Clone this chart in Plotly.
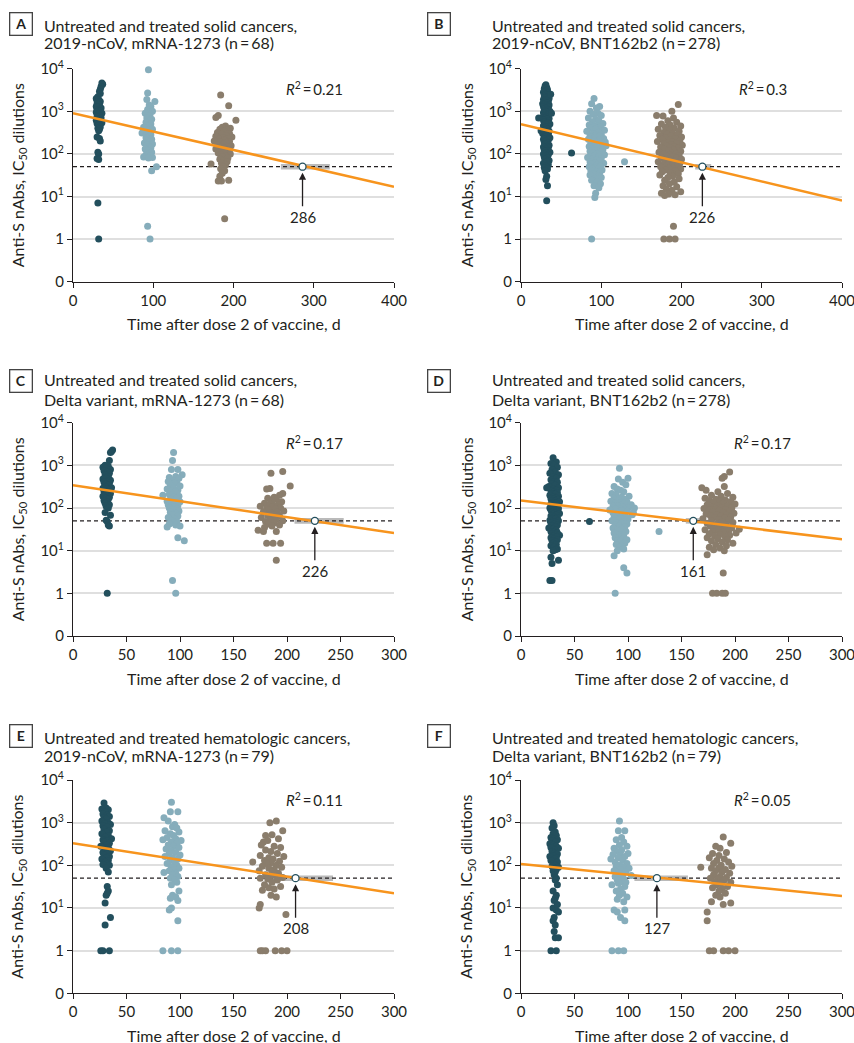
import numpy as np
import plotly.graph_objects as go

# ---------------- data ----------------
panel_letters = ["A", "B", "C", "D", "E", "F"]
title_line1 = ["Untreated and treated solid cancers,"] * 4 + ["Untreated and treated hematologic cancers,"] * 2
title_line2 = [
    "2019-nCoV, mRNA-1273 (n\u2009=\u200968)",
    "2019-nCoV, BNT162b2 (n\u2009=\u2009278)",
    "Delta variant, mRNA-1273 (n\u2009=\u200968)",
    "Delta variant, BNT162b2 (n\u2009=\u2009278)",
    "2019-nCoV, mRNA-1273 (n\u2009=\u200979)",
    "Delta variant, BNT162b2 (n\u2009=\u200979)",
]
x_max = [400, 400, 300, 300, 300, 300]
x_step = [100, 100, 50, 50, 50, 50]
fit_start = [900, 500, 340, 150, 330, 107]
fit_end = [17, 8, 26, 18.5, 22, 19]
cross_day = [286, 226, 226, 161, 208, 127]
ci_low = [259, 217, 207, 154, 186, 106]
ci_high = [320, 237, 253, 170, 243, 156]
r2_text = ["0.21", "0.3", "0.17", "0.17", "0.11", "0.05"]
threshold = 50
y_tick_vals = [0, 1, 10, 100, 1000, 10000]
y_tick_text = ["0", "1", "10<sup>1</sup>", "10<sup>2</sup>", "10<sup>3</sup>", "10<sup>4</sup>"]

# (day, titer) pairs per panel and visit
A1 = [(36,4600),(37,4300),(35,3800),(34,3300),(33,2900),(34,2600),(31,2200),(29,2000),(30,1800),(32,1900),
      (34,1700),(30,1500),(33,1400),(29,1300),(31,1250),(35,1200),(30,1100),(32,1050),(34,1000),(29,950),
      (36,900),(31,850),(33,800),(30,750),(35,700),(32,650),(29,620),(34,600),(31,560),(36,540),
      (30,520),(33,500),(32,470),(34,430),(31,400),(33,380),(32,350),(30,250),(33,230),(34,200),
      (31,110),(32,100),(30,78),(32,74),(31,7),(32,1)]
A2 = [(94,9500),(93,2700),(92,1900),(102,1700),(95,1400),(97,1300),(93,1100),(99,1000),(90,900),(96,850),
      (94,800),(92,700),(98,650),(95,600),(91,550),(97,500),(93,450),(88,420),(96,400),(99,380),
      (90,350),(94,330),(86,310),(92,300),(97,280),(95,260),(91,240),(98,220),(93,200),(96,190),
      (89,180),(99,170),(92,160),(95,150),(97,140),(90,130),(94,120),(98,110),(93,100),(91,95),
      (96,90),(88,85),(99,82),(94,80),(104,50),(98,40),(93,2),(96,1)]
A3 = [(184,2400),(194,1350),(181,800),(178,720),(203,620),(190,450),(186,420),(196,400),(183,380),(192,360),
      (188,340),(180,320),(195,300),(185,290),(191,270),(178,260),(198,250),(187,240),(193,230),(182,220),
      (189,210),(176,200),(195,195),(184,190),(191,180),(187,170),(180,160),(197,155),(186,150),(193,145),
      (182,140),(189,135),(178,130),(195,125),(185,120),(191,115),(188,110),(181,105),(196,100),(184,95),
      (190,90),(186,85),(193,80),(183,75),(188,70),(192,65),(185,60),(172,58),(190,55),(187,50),
      (184,45),(189,40),(186,35),(183,30),(181,23),(185,23),(194,24),(189,3)]

B1 = [(31,4200),(30,3900),(32,3600),(29,3400),(33,3200),(31,3000),(28,2800),(34,2700),(30,2500),(32,2400),
      (29,2300),(33,2200),(31,2100),(35,2000),(28,1900),(30,1850),(32,1800),(34,1700),(29,1650),(31,1600),
      (33,1550),(27,1500),(30,1450),(35,1400),(32,1350),(28,1300),(34,1250),(31,1200),(29,1150),(33,1100),
      (30,1050),(36,1000),(32,960),(28,920),(34,880),(31,840),(29,800),(33,760),(27,720),(30,700),
      (35,680),(32,650),(28,620),(34,600),(31,580),(29,560),(33,540),(30,520),(36,500),(32,480),
      (28,460),(34,440),(31,420),(29,400),(33,380),(30,360),(35,340),(32,320),(27,300),(34,290),
      (31,280),(29,270),(33,260),(30,250),(36,240),(32,230),(28,220),(34,210),(31,200),(29,190),
      (33,180),(30,170),(35,160),(32,150),(28,145),(34,140),(31,130),(29,125),(33,120),(30,115),
      (36,110),(32,105),(28,100),(34,95),(31,90),(29,85),(33,80),(30,75),(35,70),(32,65),
      (28,60),(34,56),(31,52),(29,48),(33,44),(30,40),(32,30),(31,25),(33,18),(32,8),
      (22,700),(38,900),(25,350),(37,2500),(63,105)]
B2 = [(91,2000),(88,1500),(98,1300),(94,1200),(86,1000),(96,900),(90,850),(100,800),(84,700),(93,650),
      (97,600),(89,560),(102,520),(85,480),(95,460),(91,440),(99,420),(87,400),(93,380),(104,360),
      (82,340),(96,320),(90,300),(100,290),(86,280),(94,270),(98,260),(88,250),(92,240),(103,230),
      (84,220),(97,210),(91,200),(105,190),(87,180),(95,175),(100,170),(89,165),(93,160),(106,155),
      (85,150),(98,145),(91,140),(96,135),(88,130),(102,125),(94,120),(86,115),(99,110),(90,105),
      (95,100),(104,95),(87,92),(92,90),(97,86),(83,82),(100,78),(89,75),(94,72),(98,68),
      (86,65),(91,62),(103,60),(88,58),(95,55),(99,52),(85,50),(93,48),(97,46),(89,44),
      (101,42),(87,40),(94,38),(98,36),(90,34),(86,32),(96,30),(100,28),(92,26),(88,24),
      (95,22),(99,20),(91,18),(97,16),(93,12),(92,9.5),(88,1),(129,65)]
B3 = [(196,1450),(188,1000),(169,800),(177,780),(190,700),(183,600),(194,550),(175,500),(186,480),(199,450),
      (180,420),(191,400),(171,380),(185,360),(197,340),(178,320),(189,300),(182,290),(195,280),(173,270),
      (187,260),(200,250),(180,240),(192,230),(176,220),(185,210),(198,200),(170,195),(189,190),(183,180),
      (194,175),(178,170),(187,165),(201,160),(181,155),(191,150),(174,145),(186,140),(196,135),(179,130),
      (190,125),(184,120),(199,115),(172,110),(188,105),(193,100),(177,98),(185,95),(197,92),(181,90),
      (189,86),(175,82),(194,80),(183,78),(200,75),(179,72),(187,70),(192,68),(171,65),(185,62),
      (198,60),(178,58),(190,56),(182,54),(195,52),(174,50),(188,48),(184,46),(199,44),(180,42),
      (192,40),(176,38),(186,36),(196,34),(173,32),(189,30),(183,28),(197,26),(179,24),(191,22),
      (185,20),(177,18),(194,17),(181,15),(188,14),(199,13),(175,12),(184,11.5),(192,11),(179,10.5),
      (190,2),(178,1),(185,1),(192,1)]

C1 = [(37,2300),(36,2100),(35,2000),(34,1300),(30,1000),(33,950),(28,900),(31,850),(35,800),(29,750),
      (32,700),(34,650),(30,600),(33,550),(31,500),(28,480),(35,450),(32,420),(29,400),(34,380),
      (31,360),(33,340),(30,320),(36,300),(28,290),(32,280),(34,260),(31,250),(29,240),(33,230),
      (35,220),(30,210),(32,200),(28,190),(34,180),(31,170),(33,160),(29,150),(32,140),(30,130),
      (34,120),(31,110),(33,100),(30,78),(35,68),(31,52),(32,48),(33,40),(34,38),(32,1)]
C2 = [(94,2000),(93,1300),(92,800),(98,800),(102,600),(96,550),(90,520),(99,500),(93,450),(89,420),
      (97,400),(95,380),(91,350),(100,330),(94,300),(88,280),(98,260),(92,250),(96,240),(84,200),
      (90,210),(99,190),(94,180),(97,170),(91,160),(95,150),(88,145),(100,140),(93,130),(96,125),
      (89,120),(98,115),(92,110),(95,105),(90,100),(97,95),(94,90),(99,85),(91,80),(96,75),
      (93,70),(98,65),(89,60),(95,55),(92,50),(97,48),(94,45),(90,42),(96,40),(88,36),
      (100,38),(98,20),(104,17),(93,2),(96,1)]
C3 = [(196,720),(185,650),(203,330),(181,280),(184,285),(196,220),(193,200),(188,180),(182,170),(190,160),
      (186,150),(195,140),(179,130),(184,125),(192,120),(188,115),(175,110),(186,105),(194,100),(181,98),
      (189,95),(183,90),(197,85),(178,82),(191,80),(185,75),(188,70),(182,68),(193,65),(176,60),
      (187,58),(190,55),(184,52),(196,50),(180,48),(188,45),(183,42),(193,40),(186,38),(179,35),
      (173,30),(178,28),(190,28),(181,15),(187,15),(194,15),(190,6)]

D1 = [(30,1500),(33,1200),(28,1100),(31,1000),(34,900),(29,800),(32,700),(27,650),(35,600),(30,550),
      (33,500),(28,460),(31,420),(34,400),(29,370),(32,340),(26,320),(35,300),(30,280),(33,260),
      (28,250),(31,240),(34,230),(29,220),(32,210),(27,200),(35,190),(30,180),(33,170),(28,165),
      (31,160),(34,155),(29,150),(32,145),(36,140),(30,135),(33,130),(28,125),(31,120),(34,115),
      (29,110),(32,105),(27,100),(35,98),(30,95),(33,92),(28,90),(31,87),(34,84),(29,80),
      (32,77),(36,74),(30,71),(33,68),(28,65),(31,62),(34,60),(29,57),(32,55),(27,52),
      (35,50),(30,48),(33,46),(28,44),(31,42),(34,40),(29,38),(32,36),(26,34),(30,32),
      (33,30),(28,28),(31,27),(34,26),(29,25),(32,24),(36,23),(30,22),(33,21),(28,20),
      (31,19),(34,18),(29,17),(32,16),(30,15),(33,14),(28,13),(31,12),(34,11),(32,10.5),
      (30,10),(28,7),(29,5),(35,6),(27,2),(29,2),(24,300),(64,48)]
D2 = [(92,850),(91,480),(100,500),(95,400),(87,320),(98,350),(90,280),(93,260),(85,220),(96,240),
      (89,200),(101,190),(94,180),(87,170),(97,160),(91,150),(84,145),(99,140),(93,135),(88,130),
      (96,125),(103,120),(90,115),(86,110),(95,105),(100,100),(92,98),(88,95),(97,92),(83,90),
      (94,87),(99,84),(90,80),(86,77),(96,74),(92,71),(104,70),(89,68),(95,65),(98,62),
      (87,60),(93,58),(100,55),(91,52),(85,50),(96,48),(89,46),(94,44),(99,42),(88,40),
      (92,38),(97,36),(86,34),(94,32),(90,30),(98,28),(87,26),(93,24),(96,22),(91,21),
      (88,20),(95,19),(99,18),(90,17),(93,16),(97,15),(89,14),(94,13),(92,12),(96,11),
      (90,10),(87,7.6),(96,4),(99,3),(88,1),(106,100),(105,80),(129,28)]
D3 = [(195,700),(190,550),(188,500),(190,320),(169,300),(173,260),(184,240),(193,220),(178,200),(187,190),
      (198,180),(172,170),(182,160),(191,155),(176,150),(186,145),(196,140),(180,135),(189,130),(200,125),
      (174,120),(184,115),(193,110),(178,106),(188,102),(197,100),(171,98),(182,95),(191,92),(176,90),
      (185,87),(195,84),(179,81),(189,78),(199,75),(173,72),(183,70),(192,68),(177,66),(187,64),
      (196,62),(181,60),(190,58),(170,56),(185,54),(194,52),(178,50),(188,48),(198,46),(174,44),
      (183,42),(192,40),(177,38),(187,36),(197,34),(180,33),(190,32),(172,31),(184,30),(194,29),
      (179,28),(189,27),(201,26),(176,25),(186,24),(195,23),(181,22),(191,21),(174,20),(184,19),
      (193,18),(178,17),(188,16),(198,15),(182,14),(192,13),(176,12),(186,11.5),(180,10.5),(190,10),
      (174,8),(189,3),(179,1),(183,1),(188,1),(191,1),(204,32)]

E1 = [(29,2900),(31,2200),(27,2100),(33,2000),(30,1800),(28,1600),(32,1500),(34,1400),(29,1300),(31,1200),
      (27,1100),(33,1000),(30,950),(35,900),(28,850),(32,800),(29,700),(34,650),(31,600),(27,550),
      (33,500),(30,460),(36,420),(28,400),(32,380),(29,350),(34,330),(31,300),(26,280),(33,260),
      (30,240),(35,220),(28,200),(32,190),(29,175),(34,160),(31,150),(27,140),(33,130),(30,120),
      (32,110),(28,105),(34,100),(31,85),(33,70),(32,32),(33,25),(32,22),(31,20),(30,13),
      (35,6),(30,4),(26,1),(28,1),(34,1)]
E2 = [(92,3000),(91,1800),(98,1800),(85,1300),(89,1100),(95,900),(93,800),(97,750),(86,650),(99,600),
      (91,550),(94,500),(88,450),(96,420),(84,400),(101,380),(92,350),(97,320),(89,300),(94,280),
      (99,260),(87,240),(92,220),(96,200),(90,190),(100,175),(86,160),(93,150),(98,140),(91,130),
      (95,120),(88,110),(97,100),(85,68),(92,90),(99,85),(94,80),(90,75),(96,65),(93,60),
      (98,55),(91,50),(95,45),(97,40),(92,35),(99,25),(93,20),(96,18),(91,17),(98,15),
      (92,10),(90,9),(98,5),(84,1),(92,1),(98,1)]
E3 = [(190,1100),(184,1000),(196,650),(180,500),(186,520),(178,350),(192,420),(182,380),(176,300),(188,280),
      (194,260),(180,230),(185,210),(191,190),(175,170),(183,150),(197,160),(187,140),(179,130),(193,125),
      (168,120),(185,115),(181,110),(190,100),(177,95),(195,90),(183,85),(188,80),(174,75),(186,70),
      (192,65),(180,60),(189,58),(184,55),(196,52),(175,50),(182,48),(191,45),(186,40),(179,35),
      (194,32),(183,30),(188,28),(177,26),(185,20),(190,18),(175,12),(174,10),(199,7),(175,1),
      (177,1),(180,1),(189,1),(195,1),(200,1)]

F1 = [(30,1000),(31,850),(29,750),(32,600),(30,550),(33,500),(28,450),(31,420),(34,400),(29,380),
      (32,350),(27,320),(30,300),(33,280),(28,260),(35,250),(31,230),(29,210),(32,200),(34,185),
      (30,170),(27,160),(33,150),(31,140),(28,130),(34,120),(30,110),(32,100),(29,95),(35,90),
      (31,85),(33,80),(30,75),(32,70),(31,60),(33,50),(32,45),(34,35),(30,25),(33,20),
      (32,17),(31,15),(34,12),(30,10),(33,9),(35,8),(31,6),(30,5),(32,4),(31,2.8),
      (32,2),(35,2),(28,1),(33,1)]
F2 = [(92,1100),(91,650),(97,650),(94,450),(89,400),(96,350),(92,300),(99,280),(87,250),(94,230),
      (90,210),(100,190),(86,180),(93,170),(97,160),(84,140),(91,150),(95,130),(88,120),(99,110),
      (92,100),(89,95),(96,90),(101,85),(93,80),(87,75),(98,70),(91,65),(95,60),(103,58),
      (88,55),(93,52),(96,48),(90,45),(94,42),(98,40),(91,38),(85,35),(97,32),(93,28),
      (89,25),(95,22),(92,20),(99,18),(90,16),(96,14),(87,9),(97,9),(90,8),(93,6),
      (97,5),(85,1),(91,1),(96,1)]
F3 = [(189,460),(196,330),(182,280),(186,250),(179,190),(192,200),(185,170),(176,150),(190,140),(183,130),
      (194,120),(180,110),(187,100),(168,90),(197,95),(185,88),(178,85),(191,80),(182,75),(188,70),
      (195,65),(180,60),(186,55),(192,52),(177,50),(184,48),(190,45),(181,42),(196,40),(187,38),
      (183,35),(193,32),(179,30),(188,28),(185,25),(191,22),(182,20),(186,18),(196,13),(178,14),
      (189,12),(174,8),(174,5),(176,1),(180,1),(189,1),(194,1),(200,1)]

panel_points = [(A1, A2, A3), (B1, B2, B3), (C1, C2, C3), (D1, D2, D3), (E1, E2, E3), (F1, F2, F3)]
visit_colors = ["#234f5d", "#86adbb", "#8a7d6c"]

# ---------------- layout geometry (pixels) ----------------
W, H = 854, 1043
col_x = [(73, 394), (521, 842)]
row_y = [(68.7, 281.7), (422.7, 636.0), (780.0, 993.3)]
title_y = [(25, 43), (380, 399), (737, 755)]
box_y = [24, 381, 736]
box_x = [21.3, 439]
text_x = [42, 490]
ytitle_x = [18, 467]
xtitle_y = [323, 678, 1035]

FONT = "Lato"
TXT = "#231f20"


def px(xp):
    return xp / W


def py(yp):
    return 1 - yp / H


def ypos(v):
    v = np.asarray(v, dtype=float)
    return np.where(v >= 1, np.log10(np.maximum(v, 1)) + 1, 0.0)


fig = go.Figure()
annotations = []
shapes = []
layout_axes = {}

for i in range(6):
    r, c = divmod(i, 2)
    xs = "" if i == 0 else str(i + 1)
    xref, yref = "x" + xs, "y" + xs
    x0, x1 = col_x[c]
    ytop, ybot = row_y[r]

    layout_axes["xaxis" + xs] = dict(
        domain=[px(x0), px(x1)], anchor=yref, range=[0, x_max[i]], automargin=False,
        tickvals=list(range(0, x_max[i] + 1, x_step[i])), ticklabeloverflow="allow",
        showline=True, linecolor=TXT, linewidth=1.2, ticks="outside", ticklen=5,
        tickcolor=TXT, tickwidth=1.2, showgrid=False, zeroline=False,
        tickfont=dict(family=FONT, size=15, color=TXT),
    )
    layout_axes["yaxis" + xs] = dict(
        domain=[py(ybot), py(ytop)], anchor=xref, range=[0, 5], automargin=False,
        tickvals=list(ypos(y_tick_vals)), ticktext=y_tick_text,
        showline=True, linecolor=TXT, linewidth=1.2, ticks="outside", ticklen=5,
        tickcolor=TXT, tickwidth=1.2, showgrid=True, gridcolor="#dfdfdf", gridwidth=1.5,
        zeroline=False, tickfont=dict(family=FONT, size=15, color=TXT),
    )

    # CI bar and threshold line
    t = float(ypos(threshold))
    shapes.append(dict(type="rect", xref=xref, yref=yref, x0=ci_low[i], x1=ci_high[i],
                       y0=t - 0.065, y1=t + 0.065, fillcolor="#bababa", line=dict(width=0),
                       layer="between"))
    shapes.append(dict(type="line", xref=xref, yref=yref, x0=0, x1=x_max[i], y0=t, y1=t,
                       line=dict(color=TXT, width=1.2, dash="4px,3px"), layer="between"))

    # points
    for v, pts in enumerate(panel_points[i]):
        days = [p[0] for p in pts]
        titers = [p[1] for p in pts]
        fig.add_trace(go.Scatter(
            x=days, y=ypos(titers), mode="markers", xaxis=xref, yaxis=yref,
            marker=dict(size=7, color=visit_colors[v], line=dict(width=0)),
            cliponaxis=False, showlegend=False, hoverinfo="skip"))

    # regression line
    fig.add_trace(go.Scatter(
        x=[0, x_max[i]], y=ypos([fit_start[i], fit_end[i]]), mode="lines",
        xaxis=xref, yaxis=yref, line=dict(color="#f7941d", width=2.5),
        showlegend=False, hoverinfo="skip"))

    # crossing point
    fig.add_trace(go.Scatter(
        x=[cross_day[i]], y=[t], mode="markers", xaxis=xref, yaxis=yref,
        marker=dict(size=7, color="white", line=dict(color="#234f5d", width=1.3)),
        showlegend=False, hoverinfo="skip"))

    annotations.append(dict(
        x=cross_day[i], y=t, xref=xref, yref=yref, text=str(cross_day[i]),
        showarrow=True, ax=0, ay=50, arrowhead=2, arrowsize=1.1, arrowwidth=1.3,
        arrowcolor=TXT, standoff=6, font=dict(family=FONT, size=15, color=TXT)))

    annotations.append(dict(
        x=x_max[i] * 0.753, y=4.54, xref=xref, yref=yref, showarrow=False,
        text="<i>R</i><sup>2</sup>\u2009=\u2009" + r2_text[i],
        font=dict(family=FONT, size=15, color=TXT)))

    # panel letter box + titles
    annotations.append(dict(
        x=px(box_x[c]), y=py(box_y[r]), xref="paper", yref="paper",
        xanchor="center", yanchor="middle",
        text="<b>" + panel_letters[i] + "</b>", showarrow=False, width=19, height=19,
        borderwidth=1.3, bordercolor="#444", borderpad=1, bgcolor="white",
        font=dict(family=FONT, size=14, color=TXT)))
    for k, line in enumerate([title_line1[i], title_line2[i]]):
        annotations.append(dict(
            x=px(text_x[c]), y=py(title_y[r][k]), xref="paper", yref="paper",
            xanchor="left", yanchor="middle", text=line, showarrow=False,
            font=dict(family=FONT, size=16, color=TXT)))

    # axis titles
    annotations.append(dict(
        x=px((x0 + x1) / 2), y=py(xtitle_y[r]), xref="paper", yref="paper",
        xanchor="center", yanchor="middle",
        text="Time after dose 2 of vaccine, d", showarrow=False,
        font=dict(family=FONT, size=16, color=TXT)))
    annotations.append(dict(
        x=px(ytitle_x[c]), y=py((ytop + ybot) / 2), xref="paper", yref="paper",
        xanchor="center", yanchor="middle",
        text="Anti-S nAbs, IC<sub>50</sub> dilutions", showarrow=False, textangle=-90,
        font=dict(family=FONT, size=16, color=TXT)))

fig.update_layout(
    width=W, height=H, margin=dict(l=0, r=0, t=0, b=0, autoexpand=False),
    paper_bgcolor="white", plot_bgcolor="white", showlegend=False,
    annotations=annotations, shapes=shapes, **layout_axes)

fig.write_html("out.html", config={"displayModeBar": False},
               post_script="document.body.style.margin='0';document.body.style.overflow='hidden';")
